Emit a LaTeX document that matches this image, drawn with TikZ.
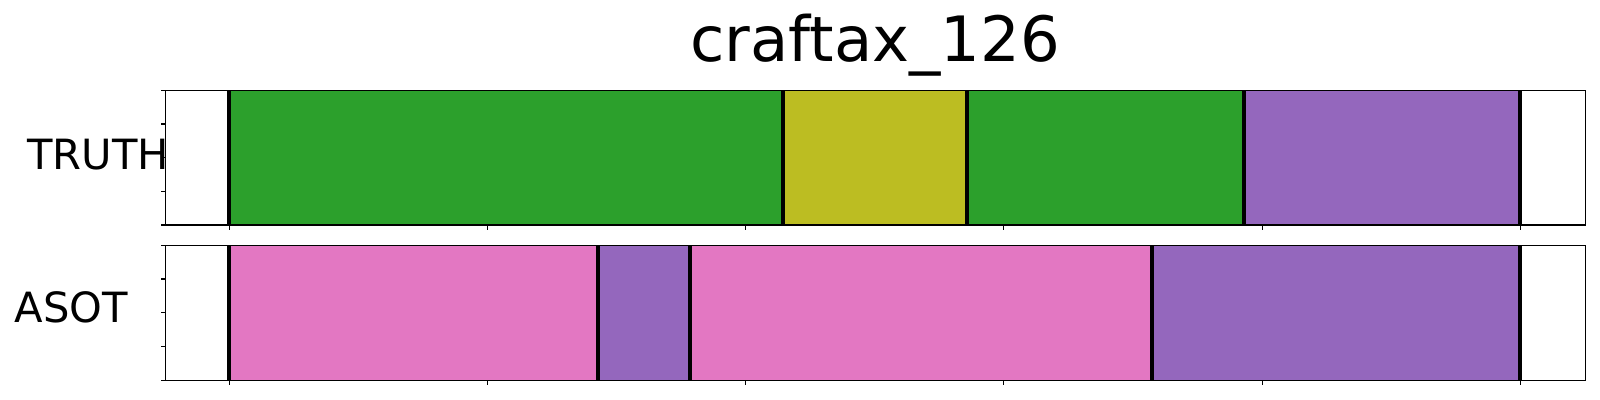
\documentclass[tikz,border=0pt]{standalone}
\usepackage{fontspec}
\setmainfont{DejaVu Sans}
\definecolor{tabgreen}{HTML}{2CA02C}
\definecolor{tabolive}{HTML}{BCBD22}
\definecolor{tabpurple}{HTML}{9467BD}
\definecolor{tabpink}{HTML}{E377C2}
\begin{document}
\begin{tikzpicture}[x=0.72pt,y=-0.72pt,
  frame/.style={draw=black,line width=0.8pt},
  bound/.style={draw=black,line width=2.9pt},
  tick/.style={draw=black,line width=0.8pt},
  lbl/.style={font=\fontsize{30pt}{31pt}\selectfont,anchor=base,inner sep=0pt},
  ttl/.style={font=\fontsize{45pt}{46pt}\selectfont,anchor=base,inner sep=0pt}]
\useasboundingbox (0,0) rectangle (1600,400);
% title and labels
\node[ttl] (title) at (875,61.7) {craftax\_126};
\node[lbl] (truth) at (98,169.3) {TRUTH};
\node[lbl] (asot) at (71.5,322.7) {ASOT};
% top axes segments
\fill[tabgreen]  (229,90.3) rectangle (783,225);
\fill[tabolive]  (783,90.3) rectangle (967,225);
\fill[tabgreen]  (967,90.3) rectangle (1244,225);
\fill[tabpurple] (1244,90.3) rectangle (1520,225);
\foreach \x in {229,783,967,1244,1520} \draw[bound] (\x,90.3) -- (\x,225);
\draw[frame] (165.5,90.3) rectangle (1585.7,225);
% bottom axes segments
\fill[tabpink]   (229,245.3) rectangle (598,380.3);
\fill[tabpurple] (598,245.3) rectangle (690,380.3);
\fill[tabpink]   (690,245.3) rectangle (1152,380.3);
\fill[tabpurple] (1152,245.3) rectangle (1520,380.3);
\foreach \x in {229,598,690,1152,1520} \draw[bound] (\x,245.3) -- (\x,380.3);
\draw[frame] (165.5,245.3) rectangle (1585.7,380.3);
% ticks
\foreach \k in {0,...,5} {
  \draw[tick] ({229.3+258.2*\k},225) -- ++(0,4.9);
  \draw[tick] ({229.3+258.2*\k},380.3) -- ++(0,4.9);
}
\foreach \k in {0,...,4} {
  \draw[tick] (165.5,{90.3+33.675*\k}) -- ++(-4.9,0);
  \draw[tick] (165.5,{245.3+33.75*\k}) -- ++(-4.9,0);
}
\end{tikzpicture}
\end{document}
